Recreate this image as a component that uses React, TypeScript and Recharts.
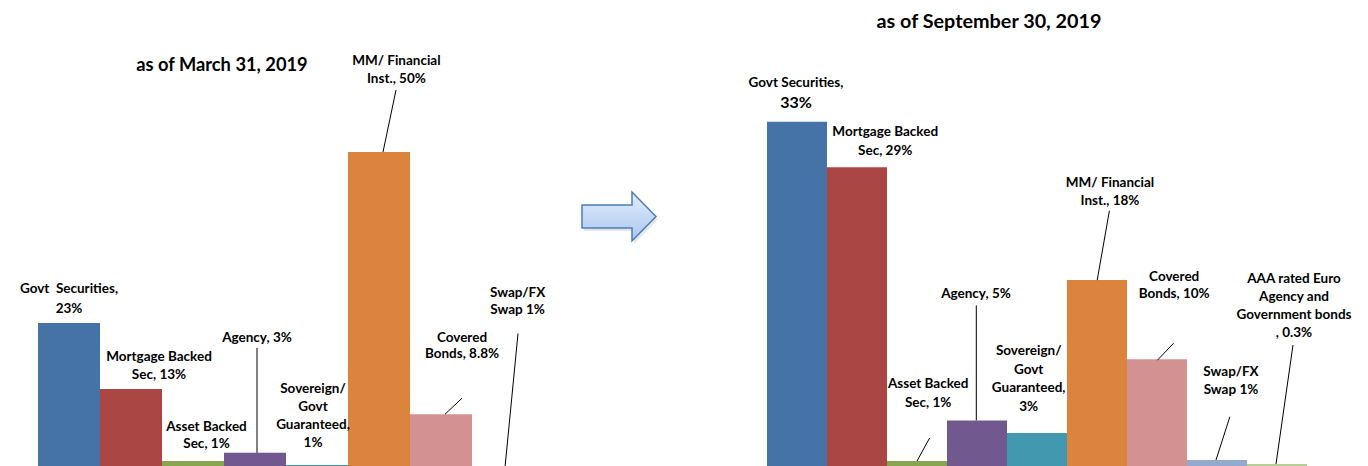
import React from 'react';
import { BarChart, Bar, XAxis, YAxis, Cell, LabelList } from 'recharts';

// categories, in the order the bars are drawn
const marchCategories = [
  'Govt Securities',
  'Mortgage Backed Sec',
  'Asset Backed Sec',
  'Agency',
  'Sovereign/ Govt Guaranteed',
  'MM/ Financial Inst.',
  'Covered Bonds',
  'Swap/FX Swap',
];
const septCategories = [...marchCategories, 'AAA rated Euro Agency and Government bonds'];

// bar heights (%)
const marchValues = [23, 12.6, 1.2, 2.5, 0.6, 50, 8.6, 0.2];
const septValues = [33, 28.7, 0.85, 4.7, 3.5, 18, 10.5, 0.95, 0.57];

// data labels shown next to each bar
const marchLabels = [
  ['Govt\u00A0\u00A0Securities,', '23%'],
  ['Mortgage Backed', 'Sec, 13%'],
  ['Asset Backed', 'Sec, 1%'],
  ['Agency, 3%'],
  ['Sovereign/', 'Govt', 'Guaranteed,', '1%'],
  ['MM/ Financial', 'Inst., 50%'],
  ['Covered', 'Bonds, 8.8%'],
  ['Swap/FX', 'Swap 1%'],
];
const septLabels = [
  ['Govt Securities,', '33%'],
  ['Mortgage Backed', 'Sec, 29%'],
  ['Asset Backed', 'Sec, 1%'],
  ['Agency, 5%'],
  ['Sovereign/', 'Govt', 'Guaranteed,', '3%'],
  ['MM/ Financial', 'Inst., 18%'],
  ['Covered', 'Bonds, 10%'],
  ['Swap/FX', 'Swap 1%'],
  ['AAA rated Euro', 'Agency and', 'Government bonds', ', 0.3%'],
];

const colors = ['#4572A7', '#AA4643', '#89A54E', '#71588F', '#4198AF', '#DB843D', '#D39291', '#93A9CF', '#B9CD96'];

// label placement relative to bar centre / bar top: [dx, dy, line gap, leader line]
type Spec = { dx: number; dy: number; gap: number; leader?: number[]; bigLast?: boolean };

const marchLayout: Spec[] = [
  { dx: 0, dy: -30, gap: 20 },
  { dx: 28, dy: -28, gap: 18 },
  { dx: 13.5, dy: -30.3, gap: 17.5 },
  { dx: 2, dy: -111, gap: 18, leader: [2, -105, 2, 0] },
  { dx: -4, dy: -71.7, gap: 18 },
  { dx: 17.4, dy: -87, gap: 18, leader: [17, -62, 4, 0] },
  { dx: 21, dy: -72, gap: 16, leader: [21, -16, 4, 0] },
  { dx: 14.6, dy: -170, gap: 17, leader: [15, -134, 2, 0] },
];

const septLayout: Spec[] = [
  { dx: -1, dy: -35, gap: 21.5, bigLast: true },
  { dx: 28.2, dy: -31.7, gap: 19 },
  { dx: 11.2, dy: -73.3, gap: 19, leader: [12.6, -23, 0, 0] },
  { dx: -1, dy: -122.3, gap: 18, leader: [-0.7, -115, -0.7, 0] },
  { dx: -8.3, dy: -78, gap: 18.5 },
  { dx: 13, dy: -93.3, gap: 18.3, leader: [12.4, -69.3, 0.2, 0] },
  { dx: 17.2, dy: -78, gap: 16.7, leader: [16.6, -16, 0.4, 1] },
  { dx: 14, dy: -84.3, gap: 18.3, leader: [12.9, -43.3, -1, 0] },
  { dx: 17, dy: -181.3, gap: 18, leader: [16, -119, -1, 0] },
];

const FONT = 'Lato, "Open Sans", sans-serif';

const makeLabel = (names: string[], labels: string[][], layout: Spec[]) => (props: any) => {
  const i = names.indexOf(props.value);
  if (i < 0) return null;
  const spec = layout[i];
  const cx = Number(props.x) + Number(props.width) / 2;
  const top = Number(props.y);
  const lines = labels[i];
  return (
    <g>
      {spec.leader && (
        <line
          x1={cx + spec.leader[0]}
          y1={top + spec.leader[1]}
          x2={cx + spec.leader[2]}
          y2={top + spec.leader[3]}
          stroke="#000"
          strokeWidth={1}
        />
      )}
      <text x={cx + spec.dx} y={top + spec.dy} textAnchor="middle" fontFamily={FONT} fontWeight="bold" fontSize={13.5} fill="#000">
        {lines.map((l, k) => (
          <tspan
            key={k}
            x={cx + spec.dx}
            dy={k === 0 ? 0 : spec.gap}
            fontSize={spec.bigLast && k === lines.length - 1 ? 16 : 13.5}
          >
            {l}
          </tspan>
        ))}
      </text>
    </g>
  );
};

const marchData = marchCategories.map((name, i) => ({ name, value: marchValues[i] }));
const septData = septCategories.map((name, i) => ({ name, value: septValues[i] }));

const App = () => {
  return (
    <div style={{ position: 'fixed', left: 0, top: 0, width: 1368, height: 466, overflow: 'hidden', background: '#fff' }}>
      <div style={{ position: 'absolute', left: 0, top: 0 }}>
        <BarChart width={560} height={520} data={marchData} barCategoryGap={0} barGap={0}
          margin={{ top: 88.7, right: 26, bottom: 51.3, left: 38 }}>
          <XAxis dataKey="name" hide />
          <YAxis hide domain={[0, 60]} />
          <Bar dataKey="value" isAnimationActive={false}>
            {marchData.map((d, i) => (
              <Cell key={d.name} fill={colors[i]} />
            ))}
            <LabelList dataKey="name" content={makeLabel(marchCategories, marchLabels, marchLayout)} />
          </Bar>
        </BarChart>
      </div>

      <div style={{ position: 'absolute', left: 740, top: 0 }}>
        <BarChart width={628} height={520} data={septData} barCategoryGap={0} barGap={0}
          margin={{ top: 48, right: 61, bottom: 50, left: 27 }}>
          <XAxis dataKey="name" hide />
          <YAxis hide domain={[0, 40]} />
          <Bar dataKey="value" isAnimationActive={false}>
            {septData.map((d, i) => (
              <Cell key={d.name} fill={colors[i]} />
            ))}
            <LabelList dataKey="name" content={makeLabel(septCategories, septLabels, septLayout)} />
          </Bar>
        </BarChart>
      </div>

      <svg width={1368} height={466} style={{ position: 'absolute', left: 0, top: 0, pointerEvents: 'none' }}>
        <defs>
          <linearGradient id="arrowFill" x1="0" y1="0" x2="0" y2="1">
            <stop offset="0%" stopColor="#E3EDFC" />
            <stop offset="100%" stopColor="#A9C6EF" />
          </linearGradient>
        </defs>
        <text x={222} y={70.5} textAnchor="middle" fontFamily={FONT} fontWeight="bold" fontSize={18.3}>
          as of March 31, 2019
        </text>
        <text x={989} y={28.3} textAnchor="middle" fontFamily={FONT} fontWeight="bold" fontSize={19.8}>
          as of September 30, 2019
        </text>
        <path d="M584,208 L634,208 L634,195 L658,219.5 L634,244 L634,231 L584,231 Z" fill="#bbb" opacity={0.35} />
        <path
          d="M582,205 L632,205 L632,192 L656,216.5 L632,241 L632,228 L582,228 Z"
          fill="url(#arrowFill)"
          stroke="#4A7EBB"
          strokeWidth={1.5}
        />
      </svg>
    </div>
  );
};

export default App;
